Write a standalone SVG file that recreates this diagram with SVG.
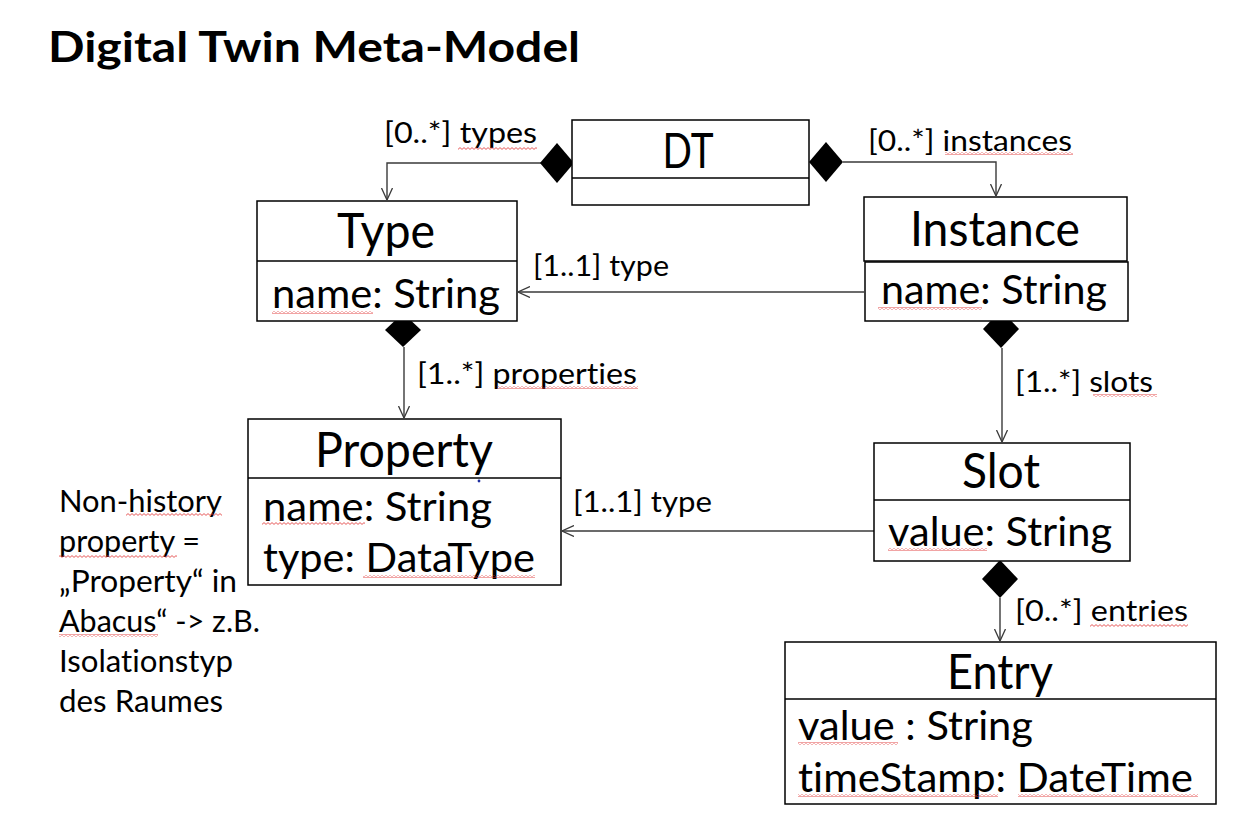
<svg xmlns="http://www.w3.org/2000/svg" width="1248" height="832" viewBox="0 0 1248 832">
<style>
text{font-family:Lato,"Open Sans","Liberation Sans",sans-serif;fill:#000;font-variant-ligatures:none;font-feature-settings:"liga" 0,"dlig" 0}
.title{font-size:42px;font-weight:bold}
.hd{font-size:48px}
.at{font-size:41px}
.lb{font-size:29px}
.nt{font-size:30px}
.box{fill:#fff;stroke:#000;stroke-width:1.5}
.div{stroke:#000;stroke-width:1.5}
.con{fill:none;stroke:#3a3a3a;stroke-width:1.4}
.dia{fill:#000}
.sq{fill:url(#squig)}
</style>
<defs>
<pattern id="squig" width="4" height="3" patternUnits="userSpaceOnUse">
<path d="M0,0.6 L2,2.4 L4,0.6" fill="none" stroke="#e03030" stroke-width="0.8"/>
</pattern>
<marker id="open" viewBox="0 0 12 12" refX="12" refY="6" markerWidth="12" markerHeight="12" markerUnits="userSpaceOnUse" orient="auto">
<path d="M0,0.5 L12,6 L0,11.5" fill="none" stroke="#3a3a3a" stroke-width="1.3"/>
</marker>
</defs>
<rect width="1248" height="832" fill="#fff"/>

<text class="title" x="48" y="62" textLength="532" lengthAdjust="spacingAndGlyphs">Digital Twin Meta-Model</text>

<g id="connectors">
<path class="con" d="M541,163 H387 V200" marker-end="url(#open)"/>
<polygon class="dia" points="557,143 574,163 557,183 540,163"/>
<path class="con" d="M843,162 H996 V196" marker-end="url(#open)"/>
<polygon class="dia" points="826,142 843,162 826,182 809,162"/>
<path class="con" d="M864,292 H518" marker-end="url(#open)"/>
<path class="con" d="M874,531 H562" marker-end="url(#open)"/>
<path class="con" d="M404,347 V418" marker-end="url(#open)"/>
<polygon class="dia" points="403,313 421,330 403,347 385,330"/>
<path class="con" d="M1002,348 V442" marker-end="url(#open)"/>
<polygon class="dia" points="1001,310 1019,329 1001,348 983,329"/>
<path class="con" d="M1000,598 V641" marker-end="url(#open)"/>
<polygon class="dia" points="1000,560 1018,579 1000,598 982,579"/>
<text class="lb" x="384" y="143" textLength="153" lengthAdjust="spacingAndGlyphs">[0..*] types</text>
<text class="lb" x="868" y="151" textLength="204" lengthAdjust="spacingAndGlyphs">[0..*] instances</text>
<text class="lb" x="533" y="276" textLength="136" lengthAdjust="spacingAndGlyphs">[1..1] type</text>
<text class="lb" x="573" y="512" textLength="139" lengthAdjust="spacingAndGlyphs">[1..1] type</text>
<text class="lb" x="417" y="384" textLength="220" lengthAdjust="spacingAndGlyphs">[1..*] properties</text>
<text class="lb" x="1015" y="392" textLength="138" lengthAdjust="spacingAndGlyphs">[1..*] slots</text>
<text class="lb" x="1015" y="621" textLength="173" lengthAdjust="spacingAndGlyphs">[0..*] entries</text>
<rect class="sq" x="458" y="147" width="79" height="3"/>
<rect class="sq" x="945" y="152" width="128" height="3"/>
<rect class="sq" x="497" y="386" width="141" height="3"/>
<rect class="sq" x="1093" y="394" width="64" height="3"/>
<rect class="sq" x="1090" y="624" width="98" height="3"/>
</g>

<g id="DT">
<rect class="box" x="572" y="120" width="237" height="85"/>
<line class="div" x1="572" y1="178" x2="809" y2="178"/>
<text class="hd" x="688" y="168" text-anchor="middle" textLength="51" lengthAdjust="spacingAndGlyphs">DT</text>
</g>

<g id="Type">
<rect class="box" x="257" y="201" width="260" height="120"/>
<line class="div" x1="257" y1="261" x2="517" y2="261"/>
<text class="hd" x="386" y="248" text-anchor="middle" textLength="98" lengthAdjust="spacingAndGlyphs">Type</text>
<text class="at" x="272" y="308" textLength="228" lengthAdjust="spacingAndGlyphs">name: String</text>
<rect class="sq" x="272" y="311" width="101" height="3"/>
</g>

<g id="Instance">
<rect class="box" x="864" y="197" width="263" height="64"/>
<rect class="box" x="865" y="262" width="263" height="59"/>
<text class="hd" x="995" y="246" text-anchor="middle" textLength="170" lengthAdjust="spacingAndGlyphs">Instance</text>
<text class="at" x="881" y="304" textLength="226" lengthAdjust="spacingAndGlyphs">name: String</text>
<rect class="sq" x="878" y="307" width="104" height="3"/>
</g>

<g id="Property">
<rect class="box" x="248" y="419" width="313" height="166"/>
<line class="div" x1="248" y1="478" x2="561" y2="478"/>
<text class="hd" x="404" y="467" text-anchor="middle" textLength="178" lengthAdjust="spacingAndGlyphs">Property</text>
<text class="at" x="263" y="521" textLength="229" lengthAdjust="spacingAndGlyphs">name: String</text>
<text class="at" x="263" y="572" textLength="272" lengthAdjust="spacingAndGlyphs">type: DataType</text>
<rect class="sq" x="262" y="522" width="103" height="3"/>
<rect class="sq" x="363" y="575" width="172" height="3"/>
<circle cx="479" cy="481" r="1.4" fill="#2030a0"/>
</g>

<g id="Slot">
<rect class="box" x="874" y="443" width="256" height="118"/>
<line class="div" x1="874" y1="500" x2="1130" y2="500"/>
<text class="hd" x="1001" y="488" text-anchor="middle" textLength="78" lengthAdjust="spacingAndGlyphs">Slot</text>
<text class="at" x="888" y="546" textLength="224" lengthAdjust="spacingAndGlyphs">value: String</text>
<rect class="sq" x="888" y="548" width="99" height="3"/>
</g>

<g id="Entry">
<rect class="box" x="785" y="642" width="431" height="162"/>
<line class="div" x1="785" y1="699" x2="1216" y2="699"/>
<text class="hd" x="1000" y="689" text-anchor="middle" textLength="106" lengthAdjust="spacingAndGlyphs">Entry</text>
<text class="at" x="798" y="740" textLength="235" lengthAdjust="spacingAndGlyphs">value : String</text>
<text class="at" x="798" y="792" textLength="395" lengthAdjust="spacingAndGlyphs">timeStamp: DateTime</text>
<rect class="sq" x="798" y="742" width="100" height="3"/>
<rect class="sq" x="798" y="794" width="200" height="3"/>
<rect class="sq" x="1018" y="794" width="180" height="3"/>
</g>

<g id="note">
<text class="nt" x="59" y="512" textLength="163" lengthAdjust="spacingAndGlyphs">Non-history</text>
<text class="nt" x="59" y="552" textLength="141" lengthAdjust="spacingAndGlyphs">property =</text>
<text class="nt" x="59" y="592" textLength="178" lengthAdjust="spacingAndGlyphs">„Property“ in</text>
<text class="nt" x="59" y="632" textLength="201" lengthAdjust="spacingAndGlyphs">Abacus“ -&gt; z.B.</text>
<text class="nt" x="59" y="672" textLength="174" lengthAdjust="spacingAndGlyphs">Isolationstyp</text>
<text class="nt" x="59" y="712" textLength="164" lengthAdjust="spacingAndGlyphs">des Raumes</text>
<rect class="sq" x="126" y="513" width="96" height="3"/>
<rect class="sq" x="59" y="555" width="118" height="3"/>
<rect class="sq" x="59" y="634" width="99" height="3"/>
</g>
</svg>
